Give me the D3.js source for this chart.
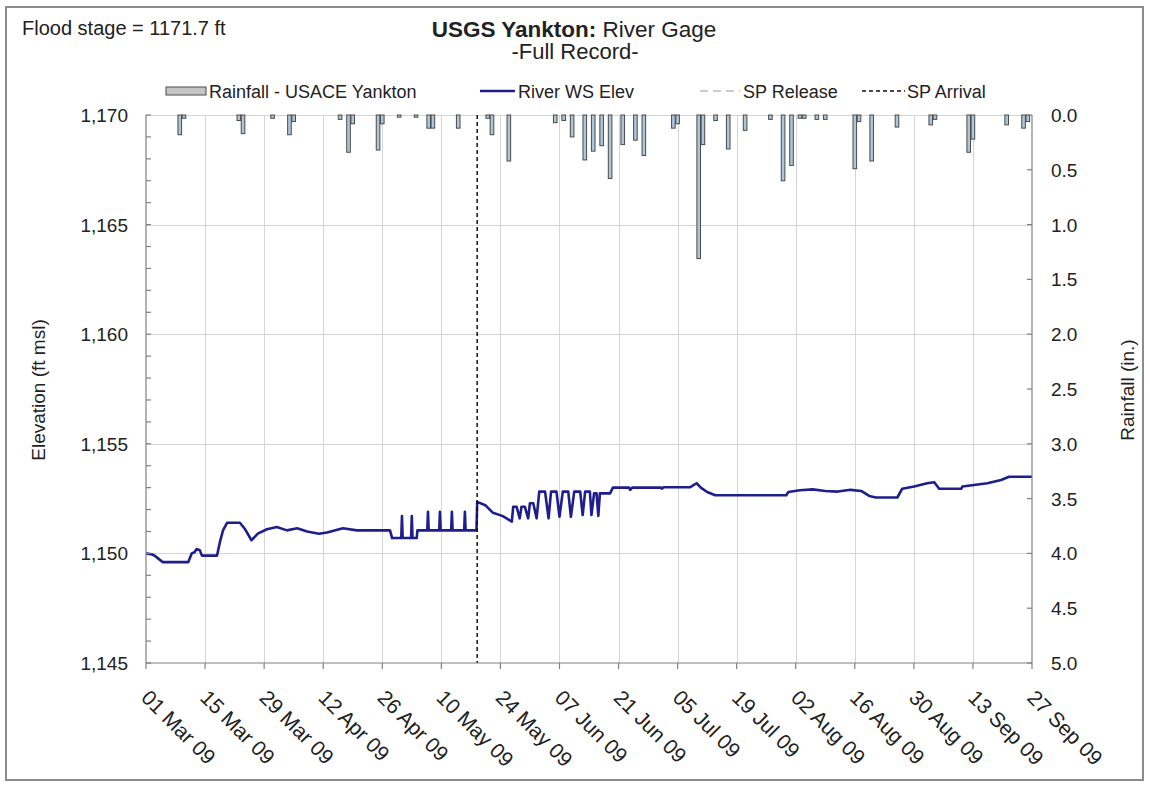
<!DOCTYPE html>
<html>
<head>
<meta charset="utf-8">
<script src="https://cdn.jsdelivr.net/npm/d3@7"></script>
<style>
    body { margin: 0; background: #ffffff; }
    text { font-family: "Liberation Sans", Arial, sans-serif; fill: #222; }
</style>
</head>
<body>
<div id="chart"></div>
<script>
// Tick dates on the x axis (every 14 days)
let tickDates = ["2009-03-01", "2009-03-15", "2009-03-29", "2009-04-12", "2009-04-26", "2009-05-10",
    "2009-05-24", "2009-06-07", "2009-06-21", "2009-07-05", "2009-07-19", "2009-08-02",
    "2009-08-16", "2009-08-30", "2009-09-13", "2009-09-27"];

let elevTicks = [1145, 1150, 1155, 1160, 1165, 1170];
let rainTicks = [0, 0.5, 1, 1.5, 2, 2.5, 3, 3.5, 4, 4.5, 5];

// SP arrival date (dashed vertical line)
let spArrival = "2009-05-18 12";

// Daily rainfall, USACE Yankton (in.)
let rainDates = ["03-09", "03-10", "03-23", "03-24", "03-31", "04-04", "04-05", "04-16", "04-18", "04-19",
    "04-25", "04-26", "04-30", "05-04", "05-07", "05-08", "05-14", "05-21", "05-22", "05-26",
    "06-06", "06-08", "06-10", "06-13", "06-15", "06-17", "06-19", "06-22", "06-25", "06-27",
    "07-04", "07-05", "07-10", "07-11", "07-14", "07-17", "07-21", "07-27", "07-30", "08-01",
    "08-03", "08-04", "08-07", "08-09", "08-16", "08-17", "08-20", "08-26", "09-03", "09-04",
    "09-12", "09-13", "09-21", "09-25", "09-26"];
let rainValues = [0.18, 0.03, 0.05, 0.17, 0.03, 0.18, 0.06, 0.04, 0.34, 0.08,
    0.32, 0.08, 0.02, 0.02, 0.12, 0.12, 0.12, 0.03, 0.18, 0.42,
    0.07, 0.05, 0.20, 0.41, 0.33, 0.28, 0.58, 0.27, 0.23, 0.37,
    0.12, 0.08, 1.31, 0.27, 0.05, 0.31, 0.14, 0.04, 0.60, 0.46,
    0.03, 0.03, 0.04, 0.04, 0.49, 0.06, 0.42, 0.11, 0.09, 0.04,
    0.34, 0.22, 0.09, 0.12, 0.06];

// River water surface elevation (ft msl), "MM-DD HH"
let riverDates = ["03-01 00", "03-02 12", "03-03 00", "03-04 00", "03-05 00", "03-11 00", "03-11 20", "03-12 12",
    "03-13 00", "03-13 18", "03-14 06", "03-17 20", "03-18 12", "03-19 06", "03-20 06", "03-23 06",
    "03-24 12", "03-26 00", "03-27 12", "03-29 16", "04-01 00", "04-03 10", "04-05 20", "04-08 04",
    "04-11 00", "04-12 22", "04-16 16", "04-20 00", "04-27 20", "04-28 08",
    "04-30 12", "04-30 16", "04-30 20", "05-02 20", "05-03 00", "05-03 04", "05-04 04", "05-04 08",
    "05-06 16", "05-06 20", "05-07 00", "05-09 12", "05-09 16", "05-09 20", "05-12 08", "05-12 12",
    "05-12 16", "05-15 10", "05-15 14", "05-15 18", "05-18 08", "05-18 12", "05-20 10", "05-22 06",
    "05-24 14", "05-26 17", "05-27 01", "05-27 20", "05-28 14", "05-29 00", "05-29 19", "05-30 14",
    "05-31 00", "05-31 19", "06-01 14", "06-02 05", "06-03 14", "06-04 10", "06-05 00", "06-06 07",
    "06-07 00", "06-07 19", "06-09 02", "06-09 17", "06-10 12", "06-11 22", "06-12 12", "06-13 02",
    "06-14 05", "06-14 14", "06-15 05", "06-15 19", "06-16 05", "06-16 14", "06-19 00", "06-19 16",
    "06-23 12", "06-23 18", "06-24 06", "07-01 00", "07-01 08", "07-01 16", "07-08 00", "07-09 12",
    "07-10 12", "07-12 00", "07-13 22", "07-30 18", "07-31 06", "08-03 00", "08-06 00", "08-09 00",
    "08-12 00", "08-15 00", "08-17 12", "08-19 10", "08-21 00", "08-26 02", "08-27 06", "08-30 02",
    "09-02 04", "09-03 20", "09-05 00", "09-10 06", "09-10 12", "09-16 10", "09-19 16", "09-21 14",
    "09-27 00"];
let riverValues = [1150.0, 1149.95, 1149.9, 1149.75, 1149.6, 1149.6, 1150.0, 1150.05,
    1150.2, 1150.15, 1149.9, 1149.9, 1150.5, 1151.05, 1151.4, 1151.4,
    1151.1, 1150.6, 1150.9, 1151.1, 1151.2, 1151.05, 1151.15, 1151.0,
    1150.9, 1150.95, 1151.15, 1151.05, 1151.05, 1150.7,
    1150.7, 1151.7, 1150.7, 1150.7, 1151.7, 1150.7, 1150.7, 1151.05,
    1151.05, 1151.9, 1151.05, 1151.05, 1151.9, 1151.05, 1151.05, 1151.9,
    1151.05, 1151.05, 1151.9, 1151.05, 1151.05, 1152.35, 1152.2, 1151.85,
    1151.7, 1151.45, 1152.13, 1152.13, 1151.6, 1152.13, 1152.13, 1151.6,
    1152.29, 1152.29, 1151.6, 1152.82, 1152.82, 1151.6, 1152.82, 1152.82,
    1151.67, 1152.82, 1152.82, 1151.67, 1152.82, 1152.82, 1151.75, 1152.82,
    1152.82, 1151.75, 1152.74, 1152.74, 1151.71, 1152.74, 1152.74, 1153.0,
    1153.0, 1152.9, 1153.0, 1153.0, 1152.95, 1153.02, 1153.02, 1153.2,
    1153.0, 1152.8, 1152.65, 1152.65, 1152.8, 1152.88, 1152.92, 1152.85,
    1152.82, 1152.9, 1152.85, 1152.62, 1152.55, 1152.55, 1152.95, 1153.05,
    1153.2, 1153.25, 1152.95, 1152.95, 1153.05, 1153.2, 1153.35, 1153.5,
    1153.5];

let config = {
    width: 1150,
    height: 788,
    plot: { left: 146, right: 1032, top: 115, bottom: 663 },
    riverColor: "#1e1e8c",
    barFill: "#aec6da",
    barStroke: "#4a4a4a",
    axisColor: "#808080",
    gridColor: "#d4d4d4"
};

let parseDay = d3.utcParse("%Y-%m-%d"),
    parseHour = d3.utcParse("%Y-%m-%d %H"),
    fmtTick = d3.utcFormat("%d %b %y");

let svg = d3.select("#chart")
    .append("svg")
    .attr("width", config.width)
    .attr("height", config.height);

// Chart frame
svg.append("rect")
    .attr("x", 6).attr("y", 7)
    .attr("width", 1137).attr("height", 773)
    .attr("fill", "#ffffff")
    .attr("stroke", "#8c8c8c")
    .attr("stroke-width", 2);

let p = config.plot;

let x = d3.scaleUtc()
    .domain([parseDay(tickDates[0]), parseDay(tickDates[tickDates.length - 1])])
    .range([p.left, p.right]);

let yElev = d3.scaleLinear().domain([1145, 1170]).range([p.bottom, p.top]);
let yRain = d3.scaleLinear().domain([0, 5]).range([p.top, p.bottom]);

let ticks = tickDates.map(parseDay);

// Gridlines
let grid = svg.append("g").attr("stroke", config.gridColor).attr("stroke-width", 1);
grid.selectAll(".hg")
    .data(elevTicks.slice(1))
    .enter().append("line")
    .attr("x1", p.left).attr("x2", p.right)
    .attr("y1", d => Math.round(yElev(d)) + 0.5)
    .attr("y2", d => Math.round(yElev(d)) + 0.5);
grid.selectAll(".vg")
    .data(ticks.slice(1, -1))
    .enter().append("line")
    .attr("x1", d => Math.round(x(d)) + 0.5).attr("x2", d => Math.round(x(d)) + 0.5)
    .attr("y1", p.top).attr("y2", p.bottom);

// Rainfall bars hanging from the top
let rain = rainDates.map((d, i) => ({ date: parseDay("2009-" + d), value: rainValues[i] }));
svg.append("g")
    .selectAll("rect")
    .data(rain)
    .enter().append("rect")
    .attr("x", d => x(d.date) - 1.8)
    .attr("y", yRain(0))
    .attr("width", 3.6)
    .attr("height", d => yRain(d.value) - yRain(0))
    .attr("fill", config.barFill)
    .attr("stroke", config.barStroke)
    .attr("stroke-width", 1);

// River line
let river = riverDates.map((d, i) => ({ date: parseHour("2009-" + d), value: riverValues[i] }));
svg.append("path")
    .datum(river)
    .attr("fill", "none")
    .attr("stroke", config.riverColor)
    .attr("stroke-width", 2.6)
    .attr("stroke-linejoin", "round")
    .attr("d", d3.line().x(d => x(d.date)).y(d => yElev(d.value)));

// SP arrival
let spX = x(parseHour(spArrival));
svg.append("line")
    .attr("x1", spX).attr("x2", spX)
    .attr("y1", p.top).attr("y2", p.bottom)
    .attr("stroke", "#111")
    .attr("stroke-width", 1.5)
    .attr("stroke-dasharray", "4,3");

// Axes
let axes = svg.append("g").attr("stroke", config.axisColor).attr("stroke-width", 1.2);
axes.append("line").attr("x1", p.left).attr("x2", p.left).attr("y1", p.top).attr("y2", p.bottom);
axes.append("line").attr("x1", p.right).attr("x2", p.right).attr("y1", p.top).attr("y2", p.bottom);
axes.append("line").attr("x1", p.left).attr("x2", p.right).attr("y1", p.bottom).attr("y2", p.bottom);

// left ticks: minor every 1 ft, inside
axes.selectAll(".lt")
    .data(d3.range(1145, 1171, 1))
    .enter().append("line")
    .attr("x1", p.left).attr("x2", p.left + 5)
    .attr("y1", d => yElev(d)).attr("y2", d => yElev(d));

// right ticks
axes.selectAll(".rt")
    .data(rainTicks)
    .enter().append("line")
    .attr("x1", p.right - 5).attr("x2", p.right)
    .attr("y1", d => yRain(d)).attr("y2", d => yRain(d));

// bottom ticks
axes.selectAll(".bt")
    .data(ticks)
    .enter().append("line")
    .attr("x1", d => x(d)).attr("x2", d => x(d))
    .attr("y1", p.bottom).attr("y2", p.bottom + 6);

// Tick labels
svg.selectAll(".ll")
    .data(elevTicks)
    .enter().append("text")
    .attr("x", 128)
    .attr("y", d => yElev(d) + 7)
    .attr("text-anchor", "end")
    .attr("font-size", 19)
    .text(d3.format(","));

svg.selectAll(".rl")
    .data(rainTicks)
    .enter().append("text")
    .attr("x", 1051)
    .attr("y", d => yRain(d) + 7)
    .attr("font-size", 19)
    .text(d3.format(".1f"));

svg.selectAll(".bl")
    .data(ticks)
    .enter().append("text")
    .attr("transform", d => "translate(" + (x(d) - 6) + ",699) rotate(45)")
    .attr("font-size", 21)
    .text(fmtTick);

// Axis titles
svg.append("text")
    .attr("transform", "translate(45,390) rotate(-90)")
    .attr("text-anchor", "middle")
    .attr("font-size", 19)
    .text("Elevation (ft msl)");
svg.append("text")
    .attr("transform", "translate(1134,390) rotate(-90)")
    .attr("text-anchor", "middle")
    .attr("font-size", 19)
    .text("Rainfall (in.)");

// Titles
svg.append("text")
    .attr("x", 22).attr("y", 35)
    .attr("font-size", 20)
    .text("Flood stage = 1171.7 ft");

let title = svg.append("text")
    .attr("x", 574).attr("y", 37)
    .attr("text-anchor", "middle")
    .attr("font-size", 22.5);
title.append("tspan").attr("font-weight", "bold").text("USGS Yankton:");
title.append("tspan").text(" River Gage");

svg.append("text")
    .attr("x", 575).attr("y", 59)
    .attr("text-anchor", "middle")
    .attr("font-size", 22)
    .text("-Full Record-");

// Legend
let legend = svg.append("g");
legend.append("rect")
    .attr("x", 166).attr("y", 87).attr("width", 40).attr("height", 8)
    .attr("fill", "#c4c4c4").attr("stroke", "#4a4a4a");
legend.append("line")
    .attr("x1", 480).attr("x2", 515).attr("y1", 91).attr("y2", 91)
    .attr("stroke", config.riverColor).attr("stroke-width", 2.4);
legend.append("line")
    .attr("x1", 700).attr("x2", 740).attr("y1", 91).attr("y2", 91)
    .attr("stroke", "#c8ccd4").attr("stroke-width", 2).attr("stroke-dasharray", "8,5");
legend.append("line")
    .attr("x1", 862).attr("x2", 905).attr("y1", 91).attr("y2", 91)
    .attr("stroke", "#111").attr("stroke-width", 1.5).attr("stroke-dasharray", "4,3");

let legendText = [["Rainfall - USACE Yankton", 209], ["River WS Elev", 518], ["SP Release", 743], ["SP Arrival", 907]];
legend.selectAll("text")
    .data(legendText)
    .enter().append("text")
    .attr("x", d => d[1]).attr("y", 98)
    .attr("font-size", 18)
    .text(d => d[0]);
</script>
</body>
</html>
